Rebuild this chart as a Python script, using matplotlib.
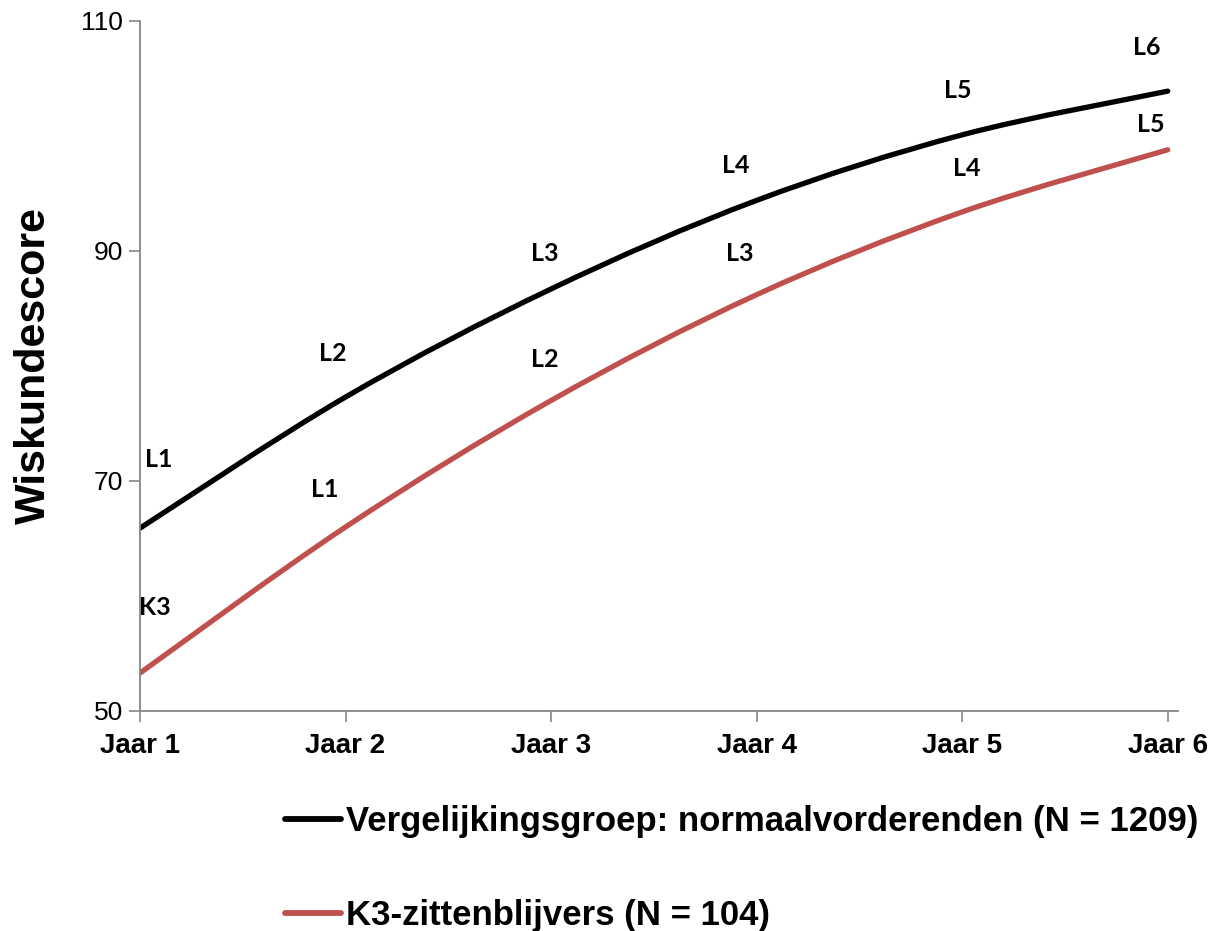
import matplotlib
matplotlib.use("Agg")
import matplotlib.pyplot as plt
from matplotlib.path import Path
from matplotlib.patches import PathPatch
from matplotlib.lines import Line2D

years = [1, 2, 3, 4, 5, 6]
year_labels = ["Jaar 1", "Jaar 2", "Jaar 3", "Jaar 4", "Jaar 5", "Jaar 6"]
normal_scores = [65.9, 77.3, 86.7, 94.4, 100.1, 103.9]
k3_scores = [53.3, 66.0, 77.0, 86.2, 93.4, 98.8]

normal_label_text = ["L1", "L2", "L3", "L4", "L5", "L6"]
normal_label_x = [1.09, 1.94, 2.97, 3.90, 4.98, 5.90]
normal_label_y = [71.9, 81.1, 89.8, 97.4, 104.0, 107.7]
k3_label_text = ["K3", "L1", "L2", "L3", "L4", "L5"]
k3_label_x = [1.07, 1.90, 2.97, 3.92, 5.02, 5.92]
k3_label_y = [59.0, 69.3, 80.6, 89.8, 97.2, 101.0]

series_names = ["Vergelijkingsgroep: normaalvorderenden (N = 1209)",
                "K3-zittenblijvers (N = 104)"]
colors = ["#000000", "#C0504D"]

yticks = [50, 70, 90, 110]

plt.rcParams['font.family'] = ['Liberation Sans', 'DejaVu Sans']

fig = plt.figure(figsize=(12.16, 9.31), dpi=100)
ax = fig.add_axes([140/1216, 1-711/931, (1178-140)/1216, (711-21)/931])


def smooth_path(xs, ys):
    # Excel-style smoothed line: cubic Bezier segments through the data points
    n = len(xs)
    verts = [(xs[0], ys[0])]
    codes = [Path.MOVETO]
    for i in range(n - 1):
        x0, y0 = xs[i], ys[i]
        x1, y1 = xs[i + 1], ys[i + 1]
        xp, yp = (xs[i - 1], ys[i - 1]) if i > 0 else (x0, y0)
        xn, yn = (xs[i + 2], ys[i + 2]) if i + 2 < n else (x1, y1)
        c1 = (x0 + (x1 - xp) / 6.0, y0 + (y1 - yp) / 6.0)
        c2 = (x1 - (xn - x0) / 6.0, y1 - (yn - y0) / 6.0)
        verts += [c1, c2, (x1, y1)]
        codes += [Path.CURVE4, Path.CURVE4, Path.CURVE4]
    return Path(verts, codes)


for vals, col in [(normal_scores, colors[0]), (k3_scores, colors[1])]:
    patch = PathPatch(smooth_path(years, vals), facecolor='none', edgecolor=col,
                      lw=3.8, capstyle='round', joinstyle='round', transform=ax.transData)
    ax.add_patch(patch)

for txts, xs, ys in [(normal_label_text, normal_label_x, normal_label_y),
                     (k3_label_text, k3_label_x, k3_label_y)]:
    for t, x, y in zip(txts, xs, ys):
        ax.text(x, y, t, ha='center', va='center', fontsize=18, fontweight='bold',
                family=['Lato', 'DejaVu Sans'], color='black')

ax.set_xlim(1, 6.05)
ax.set_ylim(50, 110)
ax.set_yticks(yticks)
ax.set_yticklabels([str(v) for v in yticks], fontsize=19)
ax.set_xticks(years)
ax.set_xticklabels(year_labels, fontsize=20, fontweight='bold')
ax.tick_params(axis='y', direction='out', length=8, width=1.2, color='#868686', pad=4)
ax.tick_params(axis='x', direction='out', length=8, width=1.2, color='#868686', pad=8)
for s in ['top', 'right']:
    ax.spines[s].set_visible(False)
for s in ['left', 'bottom']:
    ax.spines[s].set_color('#868686')
    ax.spines[s].set_linewidth(1.3)

ax.set_ylabel("Wiskundescore", fontsize=31, fontweight='bold', labelpad=20)

handles = [Line2D([0], [0], color=c, lw=4.2, solid_capstyle='round') for c in colors]
fig.legend(handles, series_names, loc='upper left', bbox_to_anchor=(285/1216, 1-805/931),
           frameon=False, prop={'size': 25, 'weight': 'bold'}, handlelength=1.6,
           handletextpad=0.15, labelspacing=1.75, borderpad=0, borderaxespad=0)

fig.savefig("out.png", dpi=100)
